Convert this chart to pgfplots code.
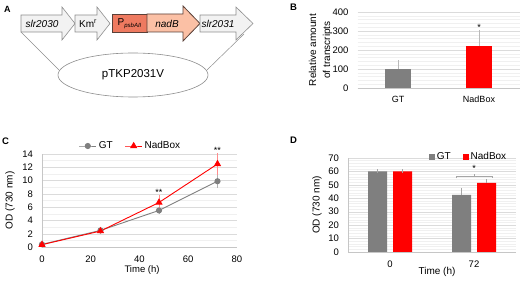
\documentclass[border=0pt]{standalone}
\usepackage{pgfplots}
\pgfplotsset{compat=1.18}
\usepackage{fontspec}
\setmainfont{Liberation Sans}
\definecolor{gtgray}{HTML}{7F7F7F}
\definecolor{ndred}{HTML}{FF0000}
\definecolor{promo}{HTML}{EE7A60}
\definecolor{nadb}{HTML}{FBC0A5}
\definecolor{genefill}{HTML}{F2F2F2}
\definecolor{geneline}{HTML}{8E8E8E}
\definecolor{darkedge}{HTML}{5A4038}
\pgfplotsset{
  panel/.style={scale only axis, anchor=south west,
    axis x line=bottom, axis y line=left,
    axis line style={-, gray!45},
    major tick length=0pt, minor tick length=0pt,
    ymajorgrids, yminorgrids,
    major grid style={gray!28, line width=0.4pt},
    minor grid style={gray!12, line width=0.4pt},
    /pgf/number format/assume math mode=true,
    yticklabel style={font=\fontsize{9.5}{11}\selectfont, xshift=-5.5pt},
    xticklabel style={font=\fontsize{9.5}{11}\selectfont},
    clip=false}
}
\begin{document}
\begin{tikzpicture}[x=1pt,y=1pt]
\path[use as bounding box] (0pt,0pt) rectangle (520pt,281pt);
% ---------------- Panel A ----------------
\node[font=\fontsize{9}{10}\selectfont\bfseries] at (7.5,271.3) {A};
\draw[geneline, line width=0.5pt] (21,249) -- (59,211);
\draw[geneline, line width=0.5pt] (244,247) -- (207,211);
\draw[geneline, fill=white, line width=0.6pt] (133,206) ellipse [x radius=75, y radius=22];
\node[font=\fontsize{11.5}{13}\selectfont] at (133,206) {pTKP2031V};
\draw[geneline, fill=genefill, line width=0.6pt] (21,266)--(62,266)--(62,274)--(75,257.5)--(62,241)--(62,249)--(21,249)--cycle;
\node[font=\fontsize{10}{12}\selectfont\itshape] at (42,257.5) {slr2030};
\draw[geneline, fill=genefill, line width=0.6pt] (75,266)--(97,266)--(97,274)--(110,257.5)--(97,241)--(97,249)--(75,249)--cycle;
\node[font=\fontsize{10}{12}\selectfont] at (88,257.5) {Km\textsuperscript{r}};
\draw[darkedge, fill=promo, line width=0.8pt] (112,249) rectangle (147,267);
\node[font=\fontsize{10}{12}\selectfont] at (129.5,257.5) {P\raisebox{-2.2pt}{\fontsize{6}{7}\selectfont\itshape psbAII}};
\draw[darkedge, fill=nadb, line width=0.8pt] (147,267)--(183,267)--(183,275)--(200,257.5)--(183,240)--(183,249)--(147,249)--cycle;
\node[font=\fontsize{10}{12}\selectfont\itshape] at (167,257.5) {nadB};
\draw[geneline, fill=genefill, line width=0.6pt] (200,266)--(236,266)--(236,274)--(253,257.5)--(236,241)--(236,249)--(200,249)--cycle;
\node[font=\fontsize{10}{12}\selectfont\itshape] at (218,257.5) {slr2031};
% ---------------- Panel B ----------------
\node[font=\fontsize{9.5}{10}\selectfont\bfseries] at (293.5,274) {B};
\begin{axis}[panel, at={(357.5pt,193pt)}, width=162pt, height=76pt,
  xmin=-0.5, xmax=1.5, ymin=0, ymax=400,
  ytick={0,100,...,400}, minor y tick num=4,
  xtick={0,1}, xticklabels={GT,NadBox},
  xticklabel style={font=\fontsize{9}{11}\selectfont, yshift=-4.5pt},
  y axis line style={draw=none},
  ylabel={Relative amount\\of transcripts},
  ylabel style={align=center, font=\fontsize{10}{14}\selectfont, at={(axis description cs:-0.228,0.5)}, anchor=center}]
\addplot[ybar, bar width=26pt, fill=gtgray, draw=none,
  error bars/.cd, y dir=plus, y explicit,
  error bar style={gray!55, line width=0.8pt},
  error mark options={gray!55, line width=0.8pt, mark size=2pt}]
  coordinates {(0,100) +- (0,35)};
\addplot[ybar, bar width=26pt, fill=ndred, draw=none,
  error bars/.cd, y dir=plus, y explicit,
  error bar style={gray!55, line width=0.8pt},
  error mark options={gray!55, line width=0.8pt, mark size=2pt}]
  coordinates {(1,220) +- (0,75)};
\node[font=\fontsize{9}{10}\selectfont] at (axis cs:1,318) {*};
\end{axis}
% ---------------- Panel C ----------------
\node[font=\fontsize{9.5}{10}\selectfont\bfseries] at (5.5,140) {C};
\begin{axis}[panel, at={(42pt,34pt)}, width=195pt, height=93pt,
  xmin=0, xmax=80, ymin=0, ymax=14,
  ytick={0,2,...,14}, minor y tick num=1,
  xtick={0,20,...,80},
  xticklabel style={yshift=-5.5pt},
  xlabel={Time (h)},
  xlabel style={font=\fontsize{9.5}{11}\selectfont, at={(axis description cs:0.513,-0.247)}, anchor=center},
  ylabel={OD (730 nm)},
  ylabel style={font=\fontsize{10}{12}\selectfont, at={(axis description cs:-0.164,0.5)}, anchor=center},
  legend columns=2,
  legend style={draw=none, fill=none, at={(0.454,1.086)}, anchor=center,
    font=\fontsize{10}{12}\selectfont,
    /tikz/every even column/.append style={column sep=10pt}}]
\addplot[gtgray, line width=0.9pt, mark=*, mark size=2.6pt, mark options={fill=gtgray, draw=gtgray},
  error bars/.cd, y dir=both, y explicit,
  error bar style={gray!60, line width=0.6pt},
  error mark options={gray!60, line width=0.6pt, mark size=2pt}]
  coordinates {(0,0.4) +- (0,0.05) (24,2.5) +- (0,0.1) (48,5.5) +- (0,0.2) (72,9.9) +- (0,0.7)};
\addplot[ndred, line width=0.9pt, mark=triangle*, mark size=3.3pt, mark options={fill=ndred, draw=ndred},
  error bars/.cd, y dir=both, y explicit,
  error bar style={red!45, line width=0.6pt},
  error mark options={red!45, line width=0.6pt, mark size=2pt}]
  coordinates {(0,0.35) +- (0,0.05) (24,2.4) +- (0,0.1) (48,6.7) +- (0,0.8) (72,12.5) +- (0,1.3)};
\legend{GT,NadBox}
\node[font=\fontsize{9}{10}\selectfont] at (axis cs:48,8.2) {**};
\node[font=\fontsize{9}{10}\selectfont] at (axis cs:72,14.5) {**};
\end{axis}
% ---------------- Panel D ----------------
\node[font=\fontsize{9.5}{10}\selectfont\bfseries] at (293.5,140.5) {D};
\begin{axis}[panel, at={(348pt,29pt)}, width=168pt, height=94pt,
  xmin=-0.5, xmax=1.5, ymin=0, ymax=70,
  ytick={0,10,...,70}, minor y tick num=4,
  xtick={0,1}, xticklabels={0,72},
  xticklabel style={yshift=-5pt},
  ybar=6pt, bar width=19pt,
  xlabel={Time (h)},
  xlabel style={font=\fontsize{10}{12}\selectfont, at={(axis description cs:0.53,-0.213)}, anchor=center},
  ylabel={OD (730 nm)},
  ylabel style={font=\fontsize{10}{12}\selectfont, at={(axis description cs:-0.185,0.5)}, anchor=center},
  legend columns=2,
  legend image code/.code={\fill[#1] (0pt,-3pt) rectangle (6pt,3pt);},
  legend style={draw=none, fill=none, at={(0.955,1.01)}, anchor=east,
    font=\fontsize{10}{12}\selectfont, inner sep=0pt,
    /tikz/every even column/.append style={column sep=10pt}}]
\addplot[fill=gtgray, draw=none,
  error bars/.cd, y dir=plus, y explicit,
  error bar style={gray!70, line width=0.7pt},
  error mark options={gray!70, line width=0.7pt, mark size=1.8pt}]
  coordinates {(0,60) +- (0,0.3) (1,42.5) +- (0,3.5)};
\addplot[fill=ndred, draw=none,
  error bars/.cd, y dir=plus, y explicit,
  error bar style={gray!70, line width=0.7pt},
  error mark options={gray!70, line width=0.7pt, mark size=1.8pt}]
  coordinates {(0,60) +- (0,0.3) (1,51.5) +- (0,1.5)};
\legend{GT,NadBox}
\draw[gray!70, line width=0.6pt] (axis cs:0.786,54.8) -- (axis cs:0.786,56.5) -- (axis cs:1.214,56.5) -- (axis cs:1.214,54.8);
\draw[gray!70, line width=0.6pt] (axis cs:1,56.5) -- (axis cs:1,58);
\node[font=\fontsize{9}{10}\selectfont] at (axis cs:1,62) {*};
\end{axis}
\end{tikzpicture}
\end{document}
